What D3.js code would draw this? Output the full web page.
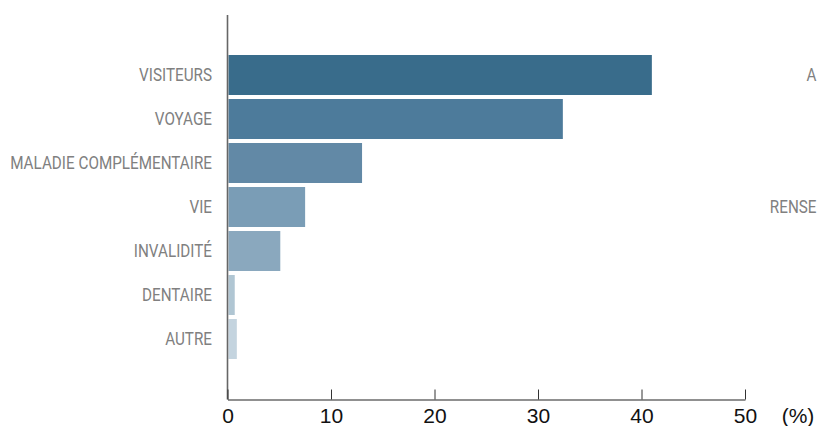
<!DOCTYPE html>
<html><head><meta charset="utf-8">
<script src="https://cdn.jsdelivr.net/npm/d3@7"></script>
<style>body{margin:0;background:#fff;} svg{display:block;}</style>
</head><body>
<svg id="c" width="817" height="426"></svg>
<script>
const categories = ["VISITEURS","VOYAGE","MALADIE COMPLÉMENTAIRE","VIE","INVALIDITÉ","DENTAIRE","AUTRE"];
const values = [41.0, 32.4, 13.0, 7.5, 5.1, 0.7, 0.9];
const colors = ["#396c8b","#4d7b9b","#6289a6","#7a9db6","#8aa8be","#b0c6d3","#c4d4df"];
const xTicks = [0,10,20,30,40,50];
const sideLabels = [{t:"A", y:"VISITEURS"},{t:"RENSE", y:"VIE"}];

const svg = d3.select("#c");
const x = d3.scaleLinear().domain([0,50]).range([227.5,745]);
const y = d3.scaleBand().domain(categories).range([53,361]).paddingInner(4/44).paddingOuter(2/44);
const labFont = "Roboto,'Liberation Sans',sans-serif";
const axisY = 399.5;

svg.selectAll("rect.bar").data(categories).join("rect")
  .attr("class","bar")
  .attr("x", x(0)+1)
  .attr("y", d=>y(d))
  .attr("width", (d,i)=>x(values[i])-x(0)-1)
  .attr("height", y.bandwidth())
  .attr("fill", (d,i)=>colors[i]);

function styleLabels(sel, txt){
  sel.attr("text-anchor","end")
    .attr("font-family", labFont)
    .attr("font-size", 18)
    .attr("fill","#808080")
    .attr("dy","0.36em")
    .text(txt);
}
const cats = svg.selectAll("text.cat").data(categories).join("text").attr("class","cat");
styleLabels(cats, d=>d);
let maxLen = 0;
cats.each(function(){ maxLen = Math.max(maxLen, this.getComputedTextLength()); });
const f = 202 / maxLen;
cats.attr("transform", d=>`translate(212,${y(d)+y.bandwidth()/2}) scale(${f},1)`);

const sides = svg.selectAll("text.side").data(sideLabels).join("text").attr("class","side");
styleLabels(sides, d=>d.t);
sides.attr("transform", d=>`translate(816.5,${y(d.y)+y.bandwidth()/2}) scale(${f},1)`);

svg.append("line").attr("x1",x(0)).attr("x2",x(0)).attr("y1",15).attr("y2",axisY)
  .attr("stroke","#666").attr("stroke-width",1.6);

const xAxis = d3.axisBottom(x).tickValues(xTicks).tickSize(-10).tickSizeOuter(0);
const g = svg.append("g").attr("transform",`translate(0,${axisY})`).call(xAxis);
g.select(".domain").attr("stroke","#222").attr("stroke-width",1.2);
g.selectAll(".tick line").attr("stroke","#333");
g.selectAll(".tick text").attr("font-family","'Liberation Sans',Arial,sans-serif")
  .attr("font-size",21).attr("fill","#111").attr("dy","0").attr("y",423-axisY);

svg.append("text").attr("x",798).attr("y",423)
  .attr("text-anchor","middle")
  .attr("font-family","'Liberation Sans',Arial,sans-serif")
  .attr("font-size",21).attr("fill","#111").text("(%)");
</script>
</body></html>
